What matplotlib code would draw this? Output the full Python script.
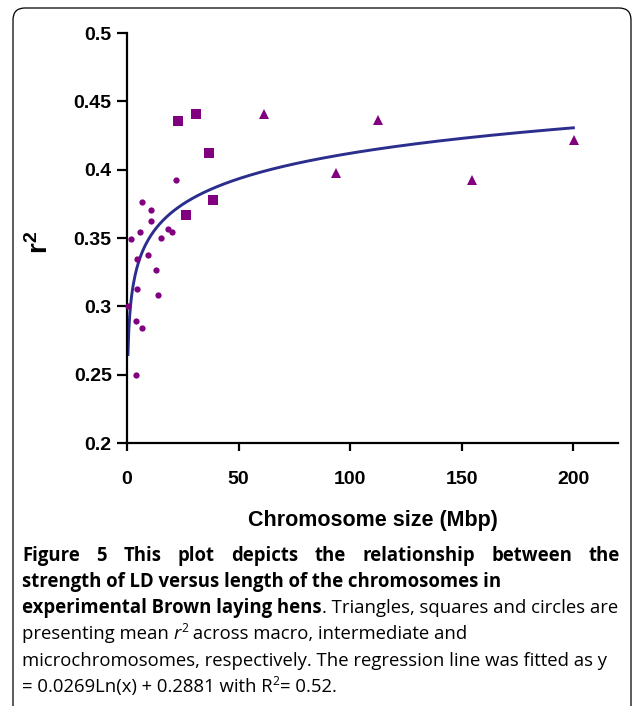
import numpy as np
import matplotlib
matplotlib.use("Agg")
import matplotlib.pyplot as plt
from matplotlib.patches import FancyBboxPatch
from matplotlib.transforms import IdentityTransform

################################
# Data
################################
# Macrochromosomes - triangles
macro_size = [61.4, 93.6, 112.4, 154.4, 200.3]
macro_r2 = [0.4407, 0.3977, 0.4363, 0.3924, 0.4217]
# Intermediate chromosomes - squares
inter_size = [23.0, 26.3, 30.8, 36.9, 38.4]
inter_r2 = [0.4358, 0.3666, 0.4405, 0.4119, 0.3778]
# Microchromosomes - circles
micro_size = [22.0, 6.7, 10.8, 10.8, 5.8, 1.8, 18.5, 20.3, 15.4, 9.6,
              4.6, 12.9, 4.6, 13.9, 0.45, 4.2, 6.7, 4.2]
micro_r2 = [0.3924, 0.3763, 0.3706, 0.3626, 0.3546, 0.349, 0.3563, 0.3543, 0.350, 0.3373,
            0.335, 0.3265, 0.3124, 0.308, 0.3004, 0.2892, 0.2839, 0.2495]
# Regression y = a*Ln(x) + b
fit_a = 0.0269
fit_b = 0.2881
fit_xmin, fit_xmax = 0.42, 200

x_ticks = [0, 50, 100, 150, 200]
y_ticks = [0.2, 0.25, 0.3, 0.35, 0.4, 0.45, 0.5]
y_labels = ["0.2", "0.25", "0.3", "0.35", "0.4", "0.45", "0.5"]

purple = "#800080"
navy = "#2b2e8c"
W, H = 634, 706

fig = plt.figure(figsize=(W / 100, H / 100), dpi=100)
ax = fig.add_axes([127 / W, (H - 443) / H, 491 / W, 410 / H])

xx = np.linspace(fit_xmin, fit_xmax, 500)
ax.plot(xx, fit_a * np.log(xx) + fit_b, color=navy, lw=2.1, zorder=2)
ax.plot(micro_size, micro_r2, "o", color=purple, ms=4.5, mew=0, clip_on=False, zorder=3)
ax.plot(inter_size, inter_r2, "s", color=purple, ms=6.5, mew=0, clip_on=False, zorder=3)
ax.plot(macro_size, macro_r2, "^", color=purple, ms=7.5, mew=0, clip_on=False, zorder=3)

ax.set_xlim(0, 220)
ax.set_ylim(0.2, 0.5)
ax.set_xticks(x_ticks)
ax.set_yticks(y_ticks)
ax.set_yticklabels(y_labels)
for s in ["top", "right"]:
    ax.spines[s].set_visible(False)
for s in ["left", "bottom"]:
    ax.spines[s].set_linewidth(1.6)
ax.tick_params(axis="y", length=7, width=1.6, pad=4)
ax.tick_params(axis="x", length=6, width=1.6, pad=14)
for lab in ax.get_xticklabels() + ax.get_yticklabels():
    lab.set_fontfamily("Liberation Sans")
    lab.set_fontweight("bold")
    lab.set_fontsize(14)

ax.set_xlabel("Chromosome size (Mbp)", fontfamily="Liberation Sans", fontweight="bold",
              fontsize=15.5, labelpad=16)
plt.rcParams["mathtext.fontset"] = "custom"
plt.rcParams["mathtext.bf"] = "Liberation Sans:bold"
plt.rcParams["mathtext.rm"] = "Liberation Sans:bold"
fig.text(40, H - 242, r"$\mathbf{r^2}$", transform=IdentityTransform(), rotation=90,
         fontsize=20, ha="center", va="center")

# rounded frame, bottom edge runs off the picture
fig.add_artist(FancyBboxPatch((13, -20), 618, H - 8 + 20, boxstyle="round,pad=0,rounding_size=12",
                              transform=IdentityTransform(), fill=False, ec="black", lw=0.9))

################################
# Caption
################################
cap_font = "Open Sans"
cap_size = 13.35
left, right = 22, 620
line_y = [555, 581, 607, 633, 660, 686]
renderer = fig.canvas.get_renderer()


def put(x, y, s, weight="normal", style="normal", size=cap_size, dy=0):
    t = fig.text(x, H - y + dy, s, transform=IdentityTransform(), fontfamily=cap_font,
                 fontweight=weight, fontstyle=style, fontsize=size, va="baseline", ha="left")
    return x + t.get_window_extent(renderer).width


def segments(y, segs):
    x = left
    for seg in segs:
        x = put(x, y + 6, *seg[:3], **(seg[3] if len(seg) > 3 else {}))


# justified first line
words = "Figure 5 This plot depicts the relationship between the".split()
widths = []
for w in words:
    t = fig.text(0, 0, w, fontfamily=cap_font, fontweight="bold", fontsize=cap_size)
    widths.append(t.get_window_extent(renderer).width)
    t.remove()
gap = (right - left - sum(widths)) / (len(words) - 1)
x = left
for w, wd in zip(words, widths):
    put(x, line_y[0] + 6, w, "bold")
    x += wd + gap

segments(line_y[1], [("strength of LD versus length of the chromosomes in", "bold", "normal")])
segments(line_y[2], [("experimental Brown laying hens", "bold", "normal"),
                     (". Triangles, squares and circles are", "normal", "normal")])
segments(line_y[3], [("presenting mean ", "normal", "normal"),
                     ("r", "normal", "italic"),
                     ("2", "normal", "normal", {"size": cap_size * 0.65, "dy": 7}),
                     (" across macro, intermediate and", "normal", "normal")])
segments(line_y[4], [("microchromosomes, respectively. The regression line was fitted as y",
                      "normal", "normal")])
segments(line_y[5], [("= 0.0269Ln(x) + 0.2881 with R", "normal", "normal"),
                     ("2", "normal", "normal", {"size": cap_size * 0.65, "dy": 7}),
                     ("= 0.52.", "normal", "normal")])

fig.savefig("out.png", dpi=100)
